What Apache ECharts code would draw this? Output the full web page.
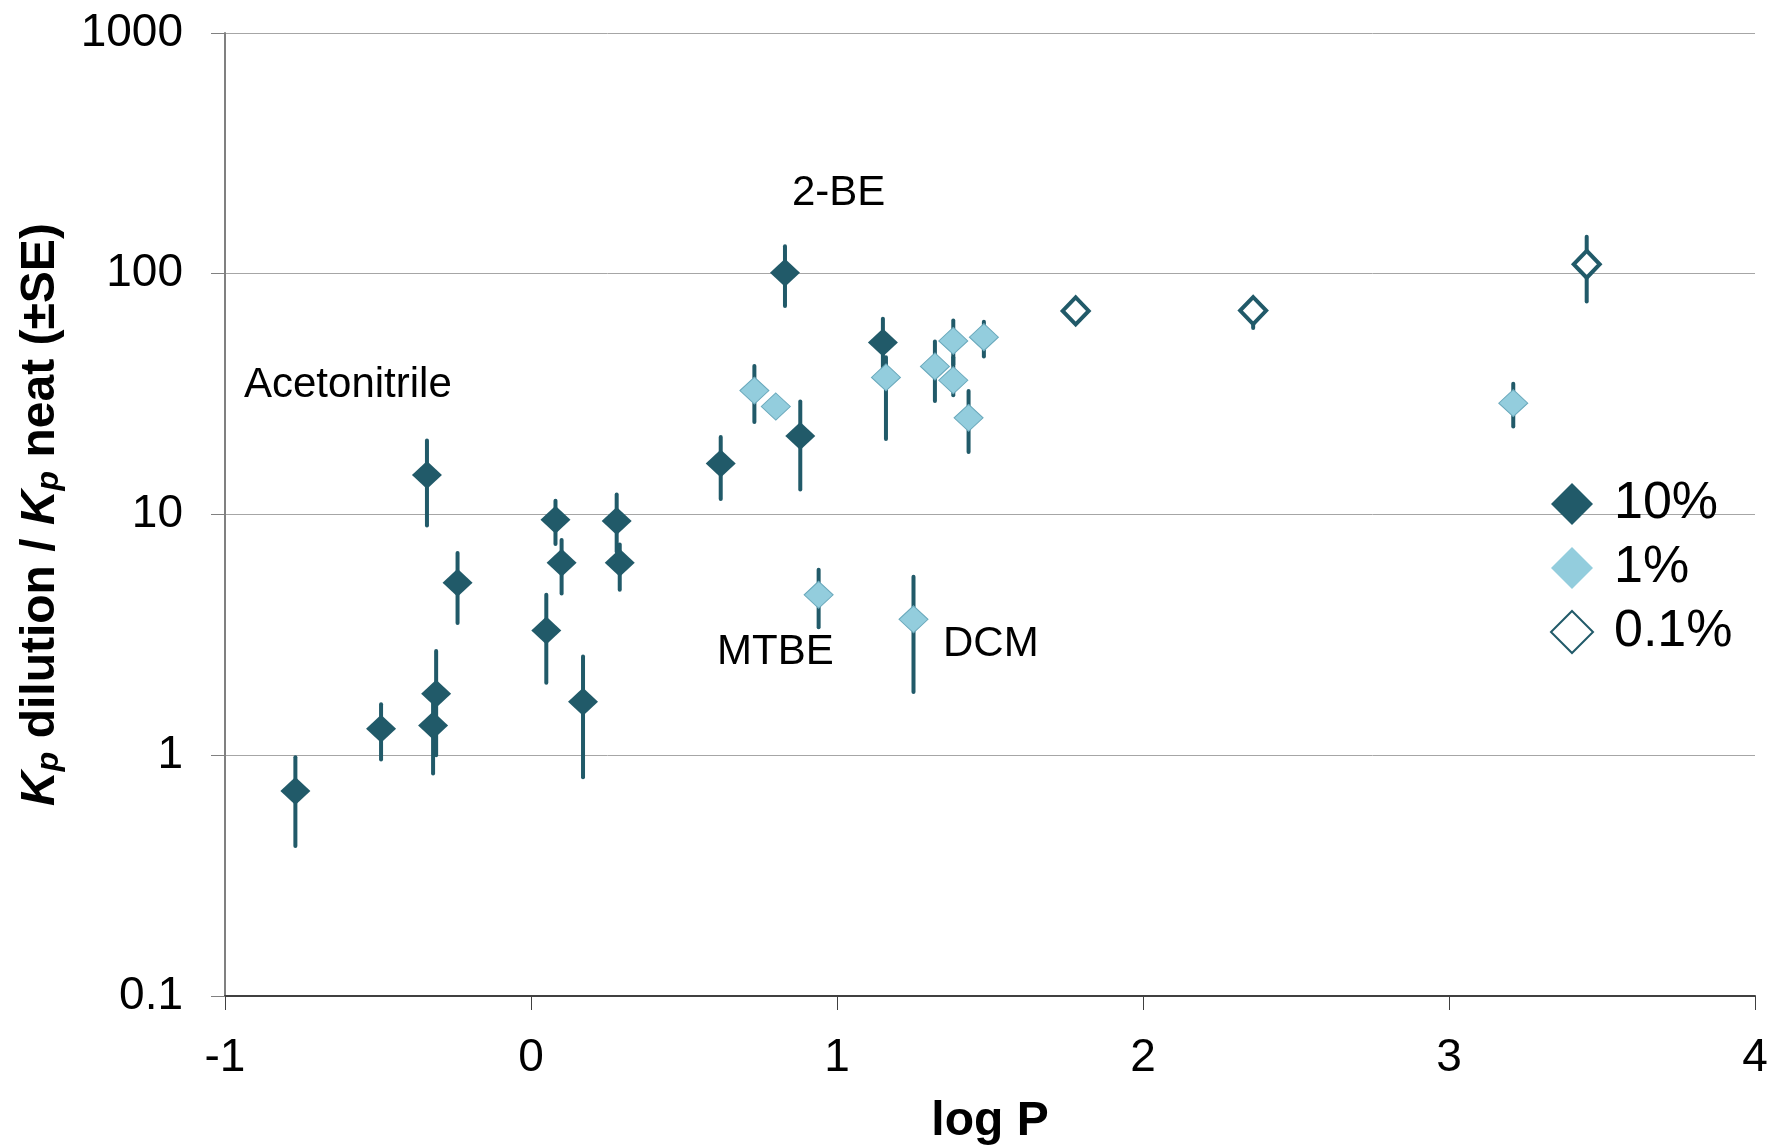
<!DOCTYPE html>
<html>
<head>
<meta charset="utf-8">
<script src="https://cdn.jsdelivr.net/npm/echarts@6/dist/echarts.min.js"></script>
<style>
  html, body { margin: 0; padding: 0; background: #fff; }
  #chart { width: 1771px; height: 1147px; }
</style>
</head>
<body>
<div id="chart"></div>
<script>
// 10% dilution
const logP10 = [-0.77, -0.49, -0.32, -0.31, -0.34, -0.24, 0.05, 0.08, 0.10, 0.17, 0.28, 0.29, 0.62, 0.83, 0.88, 1.15];
const ratio10 = [0.71, 1.29, 1.33, 1.80, 14.6, 5.2, 3.3, 9.5, 6.3, 1.67, 9.4, 6.3, 16.3, 101, 21.2, 51.8];
const lo10 = [0.42, 0.96, 0.84, 1.0, 9.0, 3.54, 2.0, 7.55, 4.7, 0.81, 7.0, 4.87, 11.6, 73.5, 12.7, 40];
const hi10 = [0.98, 1.63, 1.8, 2.71, 20.3, 6.92, 4.64, 11.4, 7.84, 2.57, 12.1, 7.5, 21.0, 130, 29.5, 65];

// 1% dilution
const logP1 = [0.73, 0.80, 0.94, 1.16, 1.25, 1.32, 1.38, 1.38, 1.43, 1.48, 3.21];
const ratio1 = [32.7, 28.1, 4.64, 37.1, 3.67, 41.2, 52.6, 36.1, 25.2, 54.5, 29.0];
const lo1 = [24.2, 26.5, 3.4, 20.6, 1.83, 29.6, 42, 31.3, 18.2, 45.3, 23.2];
const hi1 = [41.4, 29.8, 5.9, 45, 5.52, 52.3, 64, 45, 32.6, 63.2, 34.9];

// 0.1% dilution
const logP01 = [1.78, 2.36, 3.45];
const ratio01 = [70.1, 70.3, 109.5];
const lo01 = [67, 59.5, 76.6];
const hi01 = [73, 73, 142.6];

const yTicks = [0.1, 1, 10, 100, 1000];
const seriesNames = ["10%", "1%", "0.1%"];

const DARK = "#215A69";
const LIGHT = "#93CDDD";
const FONT = "Liberation Sans, Arial, sans-serif";

function pairs(xs, ys) {
  return xs.map((x, i) => [x, ys[i]]);
}

// vertical SE bars, drawn through the chart's own axes
function errorBars(xs, lo, hi) {
  return {
    type: "custom",
    silent: true,
    z: 1,
    renderItem: (params, api) => {
      const top = api.coord([api.value(0), api.value(2)]);
      const bot = api.coord([api.value(0), api.value(1)]);
      return {
        type: "line",
        shape: { x1: top[0], y1: top[1], x2: bot[0], y2: bot[1] },
        style: { stroke: DARK, lineWidth: 4, lineCap: "round" }
      };
    },
    encode: { x: 0, y: [1, 2] },
    data: xs.map((x, i) => [x, lo[i], hi[i]])
  };
}

const chart = echarts.init(document.getElementById("chart"));

const labelText = (t, x, y) => ({
  type: "text",
  left: x,
  top: y,
  style: { text: t, font: "42px " + FONT, fill: "#000" }
});

chart.setOption({
  animation: false,
  grid: { left: 225, right: 16, top: 33, bottom: 151, outerBoundsMode: "none" },
  legend: {
    orient: "vertical",
    left: 1545,
    top: 473,
    itemWidth: 42,
    itemHeight: 42,
    itemGap: 12,
    textStyle: { fontSize: 52, lineHeight: 52, fontFamily: FONT, color: "#000", padding: [0, 0, 0, 16] },
    data: [
      { name: seriesNames[0] },
      { name: seriesNames[1], itemStyle: { borderWidth: 0 } },
      { name: seriesNames[2], itemStyle: { borderWidth: 2 } }
    ]
  },
  xAxis: {
    type: "value",
    min: -1,
    max: 4,
    interval: 1,
    name: "log P",
    nameLocation: "middle",
    nameGap: 102,
    nameTextStyle: { fontSize: 48, fontWeight: "bold", fontFamily: FONT, color: "#000" },
    axisLine: { onZero: false, lineStyle: { color: "#404040", width: 2 } },
    axisTick: { inside: false, length: 14, lineStyle: { color: "#404040" } },
    axisLabel: { fontSize: 46, fontFamily: FONT, color: "#000", margin: 39 },
    splitLine: { show: false }
  },
  yAxis: {
    type: "log",
    logBase: 10,
    min: yTicks[0],
    max: yTicks[yTicks.length - 1],
    name: "{k|K}{s|p}{n| dilution / }{k|K}{s|p}{n| neat (±SE)}",
    nameLocation: "middle",
    nameRotate: 90,
    nameGap: 160,
    nameTextStyle: {
      fontFamily: FONT,
      color: "#000",
      rich: {
        k: { fontSize: 48, fontWeight: "bold", fontStyle: "italic", fontFamily: FONT, lineHeight: 48 },
        s: { fontSize: 32, fontWeight: "bold", fontStyle: "italic", fontFamily: FONT, lineHeight: 20, padding: [34, 0, 0, 0], verticalAlign: "bottom" },
        n: { fontSize: 48, fontWeight: "bold", fontFamily: FONT, lineHeight: 48 }
      }
    },
    axisLine: { show: true, onZero: false, lineStyle: { color: "#808080", width: 2 } },
    axisTick: { show: true, inside: false, length: 14, lineStyle: { color: "#808080" } },
    axisLabel: { fontSize: 46, fontFamily: FONT, color: "#000", margin: 42, formatter: v => String(v) },
    splitLine: { show: true, lineStyle: { color: "#a6a6a6", width: 1 } }
  },
  series: [
    errorBars(logP10, lo10, hi10),
    errorBars(logP1, lo1, hi1),
    errorBars(logP01, lo01, hi01),
    {
      name: seriesNames[0],
      type: "scatter",
      symbol: "diamond",
      symbolSize: [30, 28],
      z: 3,
      itemStyle: { color: DARK, opacity: 1 },
      data: pairs(logP10, ratio10)
    },
    {
      name: seriesNames[1],
      type: "scatter",
      symbol: "diamond",
      symbolSize: [29, 27],
      z: 4,
      itemStyle: { color: LIGHT, borderColor: "#6AA9BC", borderWidth: 1, opacity: 1 },
      data: pairs(logP1, ratio1)
    },
    {
      name: seriesNames[2],
      type: "scatter",
      symbol: "diamond",
      symbolSize: [26, 27],
      z: 4,
      itemStyle: { color: "#fff", borderColor: DARK, borderWidth: 4, opacity: 1 },
      data: pairs(logP01, ratio01)
    }
  ],
  graphic: [
    labelText("Acetonitrile", 244, 364),
    labelText("2-BE", 792, 172),
    labelText("MTBE", 717, 631),
    labelText("DCM", 943, 623)
  ]
});
</script>
</body>
</html>
